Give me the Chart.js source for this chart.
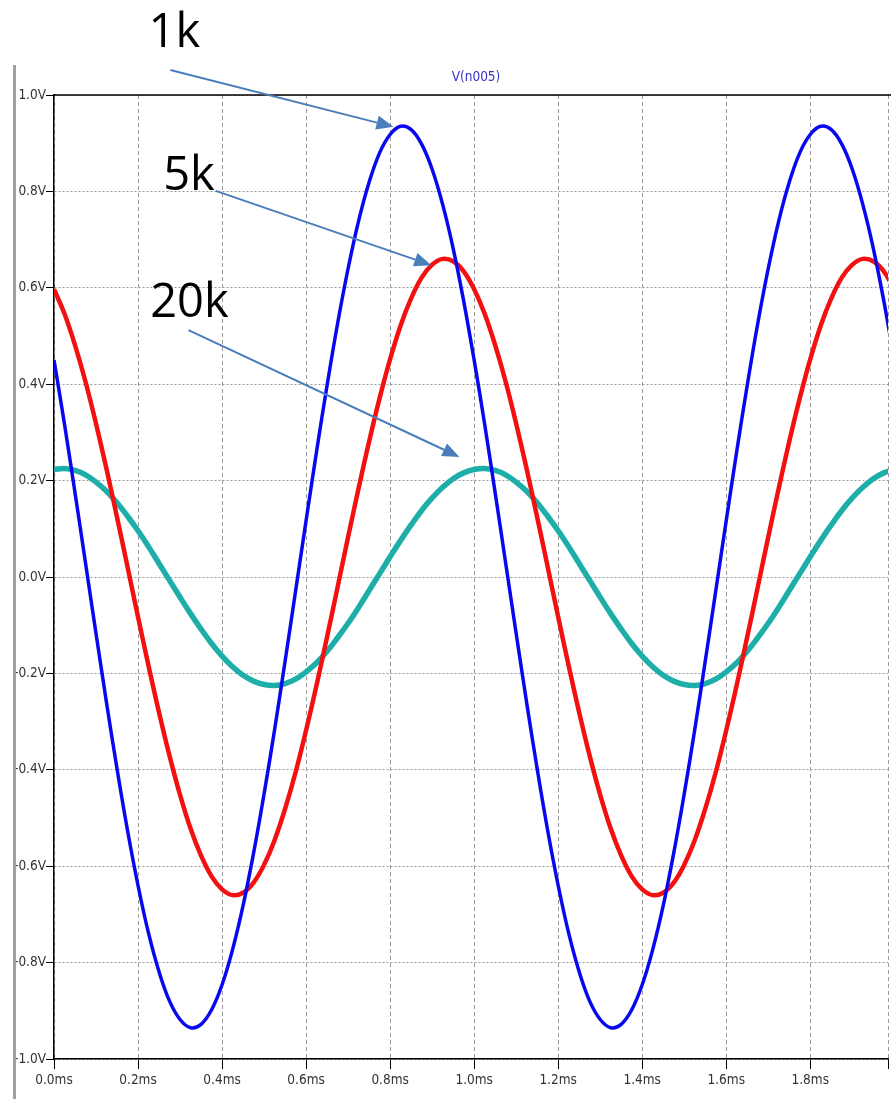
<!DOCTYPE html>
<html>
<head>
<meta charset="utf-8">
<script src="https://cdn.jsdelivr.net/npm/chart.js@4/dist/chart.umd.min.js"></script>
<style>
  body { margin: 0; background: #fff; }
  canvas { display: block; }
</style>
</head>
<body>
<canvas id="wave" width="891" height="1099"></canvas>
<script>
// time axis (ms)
const times = [
    0, 0.025, 0.05, 0.075, 0.1, 0.125, 0.15, 0.175, 0.2, 0.225,
    0.25, 0.275, 0.3, 0.325, 0.35, 0.375, 0.4, 0.425, 0.45, 0.475,
    0.5, 0.525, 0.55, 0.575, 0.6, 0.625, 0.65, 0.675, 0.7, 0.725,
    0.75, 0.775, 0.8, 0.825, 0.85, 0.875, 0.9, 0.925, 0.95, 0.975,
    1.0, 1.025, 1.05, 1.075, 1.1, 1.125, 1.15, 1.175, 1.2, 1.225,
    1.25, 1.275, 1.3, 1.325, 1.35, 1.375, 1.4, 1.425, 1.45, 1.475,
    1.5, 1.525, 1.55, 1.575, 1.6, 1.625, 1.65, 1.675, 1.7, 1.725,
    1.75, 1.775, 1.8, 1.825, 1.85, 1.875, 1.9, 1.925, 1.95, 1.975, 2.0,
];

// V(n005) with 1k load
const v1k = [
    0.450, 0.317, 0.175, 0.029, -0.117, -0.261, -0.398, -0.526, -0.640, -0.739,
    -0.819, -0.880, -0.918, -0.935, -0.928, -0.898, -0.846, -0.773, -0.682, -0.573,
    -0.450, -0.317, -0.175, -0.029, 0.117, 0.261, 0.398, 0.526, 0.640, 0.739,
    0.819, 0.880, 0.918, 0.935, 0.928, 0.898, 0.846, 0.773, 0.682, 0.573,
    0.450, 0.317, 0.175, 0.029, -0.117, -0.261, -0.398, -0.526, -0.640, -0.739,
    -0.819, -0.880, -0.918, -0.935, -0.928, -0.898, -0.846, -0.773, -0.682, -0.573,
    -0.450, -0.317, -0.175, -0.029, 0.117, 0.261, 0.398, 0.526, 0.640, 0.739,
    0.819, 0.880, 0.918, 0.935, 0.928, 0.898, 0.846, 0.773, 0.682, 0.573, 0.450,
];

// 5k load
const v5k = [
    0.597, 0.546, 0.481, 0.405, 0.318, 0.224, 0.124, 0.021, -0.083, -0.184,
    -0.281, -0.371, -0.452, -0.522, -0.578, -0.621, -0.648, -0.660, -0.655, -0.634,
    -0.597, -0.546, -0.481, -0.405, -0.318, -0.224, -0.124, -0.021, 0.083, 0.184,
    0.281, 0.371, 0.452, 0.522, 0.578, 0.621, 0.648, 0.660, 0.655, 0.634,
    0.597, 0.546, 0.481, 0.405, 0.318, 0.224, 0.124, 0.021, -0.083, -0.184,
    -0.281, -0.371, -0.452, -0.522, -0.578, -0.621, -0.648, -0.660, -0.655, -0.634,
    -0.597, -0.546, -0.481, -0.405, -0.318, -0.224, -0.124, -0.021, 0.083, 0.184,
    0.281, 0.371, 0.452, 0.522, 0.578, 0.621, 0.648, 0.660, 0.655, 0.634, 0.597,
];

// 20k load
const v20k = [
    0.223, 0.225, 0.221, 0.212, 0.197, 0.178, 0.154, 0.126, 0.096, 0.063,
    0.028, -0.007, -0.042, -0.076, -0.108, -0.138, -0.164, -0.186, -0.204, -0.216,
    -0.223, -0.225, -0.221, -0.212, -0.197, -0.178, -0.154, -0.126, -0.096, -0.063,
    -0.028, 0.007, 0.042, 0.076, 0.108, 0.138, 0.164, 0.186, 0.204, 0.216,
    0.223, 0.225, 0.221, 0.212, 0.197, 0.178, 0.154, 0.126, 0.096, 0.063,
    0.028, -0.007, -0.042, -0.076, -0.108, -0.138, -0.164, -0.186, -0.204, -0.216,
    -0.223, -0.225, -0.221, -0.212, -0.197, -0.178, -0.154, -0.126, -0.096, -0.063,
    -0.028, 0.007, 0.042, 0.076, 0.108, 0.138, 0.164, 0.186, 0.204, 0.216, 0.223,
];

const plotTitle = 'V(n005)';

// callout labels, anchored in data units (ms, V)
const calloutText = ['1k', '5k', '20k'];
const calloutLabelAt = [[0.225, 1.100], [0.260, 0.803], [0.229, 0.539]];
const calloutFrom = [[0.277, 1.052], [0.385, 0.801], [0.320, 0.512]];
const calloutTo = [[0.808, 0.934], [0.898, 0.647], [0.965, 0.249]];

const toPoints = (vals) => vals.map((v, i) => ({ x: times[i], y: v }));

const tickFamily = '"DejaVu Sans Condensed", "Liberation Sans", Arial, sans-serif';

const decorations = {
    id: 'decorations',
    afterDraw(chart) {
        const { ctx, chartArea, scales } = chart;
        const xs = scales.x;
        const ys = scales.y;
        ctx.save();

        // window edge on the left
        ctx.strokeStyle = '#a0a0a0';
        ctx.lineWidth = 3;
        ctx.beginPath();
        ctx.moveTo(14.5, 65);
        ctx.lineTo(14.5, chart.height);
        ctx.stroke();

        // top frame line
        ctx.strokeStyle = '#000';
        ctx.lineWidth = 1.5;
        ctx.beginPath();
        ctx.moveTo(chartArea.left, chartArea.top);
        ctx.lineTo(chart.width, chartArea.top);
        ctx.stroke();

        // trace name
        ctx.fillStyle = '#3535c8';
        ctx.font = `13.5px ${tickFamily}`;
        ctx.textAlign = 'center';
        ctx.textBaseline = 'middle';
        ctx.fillText(plotTitle, (chartArea.left + chartArea.right) / 2 + 5, chartArea.top - 18);

        // callouts
        ctx.textAlign = 'left';
        ctx.textBaseline = 'alphabetic';
        ctx.font = '47px "Open Sans", sans-serif';
        calloutText.forEach((label, i) => {
            ctx.fillStyle = '#000';
            ctx.fillText(label, xs.getPixelForValue(calloutLabelAt[i][0]), ys.getPixelForValue(calloutLabelAt[i][1]));

            const x1 = xs.getPixelForValue(calloutFrom[i][0]);
            const y1 = ys.getPixelForValue(calloutFrom[i][1]);
            const x2 = xs.getPixelForValue(calloutTo[i][0]);
            const y2 = ys.getPixelForValue(calloutTo[i][1]);
            const ang = Math.atan2(y2 - y1, x2 - x1);
            const headLen = 17;
            const headW = 7;
            const bx = x2 - headLen * Math.cos(ang);
            const by = y2 - headLen * Math.sin(ang);

            ctx.strokeStyle = '#4a7ebb';
            ctx.fillStyle = '#4a7ebb';
            ctx.lineWidth = 2;
            ctx.beginPath();
            ctx.moveTo(x1, y1);
            ctx.lineTo(bx, by);
            ctx.stroke();

            ctx.beginPath();
            ctx.moveTo(x2, y2);
            ctx.lineTo(bx + headW * Math.sin(ang), by - headW * Math.cos(ang));
            ctx.lineTo(bx - headW * Math.sin(ang), by + headW * Math.cos(ang));
            ctx.closePath();
            ctx.fill();
        });
        ctx.restore();
    },
};

const tickFont = { family: tickFamily, size: 13.5 };

new Chart(document.getElementById('wave').getContext('2d'), {
    type: 'line',
    data: {
        datasets: [
            {
                label: '1k',
                data: toPoints(v1k),
                borderColor: '#0808f0',
                borderWidth: 3.5,
                pointRadius: 0,
                tension: 0.4,
            },
            {
                label: '5k',
                data: toPoints(v5k),
                borderColor: '#f21010',
                borderWidth: 4.5,
                pointRadius: 0,
                tension: 0.4,
            },
            {
                label: '20k',
                data: toPoints(v20k),
                borderColor: '#1eaeaa',
                borderWidth: 5.5,
                pointRadius: 0,
                tension: 0.4,
            },
        ],
    },
    options: {
        responsive: false,
        animation: false,
        events: [],
        layout: { padding: { top: 95, left: 0, right: 0, bottom: 0 } },
        plugins: {
            legend: { display: false },
            tooltip: { enabled: false },
        },
        scales: {
            x: {
                type: 'linear',
                min: 0,
                max: 1.985,
                afterFit: (scale) => { scale.height = 40; },
                ticks: {
                    stepSize: 0.2,
                    color: '#333',
                    font: tickFont,
                    padding: 3,
                    maxRotation: 0,
                    autoSkip: false,
                    callback: (v) => (v > 1.95 ? '' : `${v.toFixed(1)}ms`),
                },
                grid: {
                    color: '#9a9a9a',
                    lineWidth: 1,
                    tickLength: 10,
                    tickColor: '#000',
                    tickBorderDash: [],
                },
                border: { display: true, color: '#000', width: 1.5, dash: [4, 3] },
            },
            y: {
                min: -1,
                max: 1,
                afterFit: (scale) => { scale.width = 54; },
                ticks: {
                    stepSize: 0.2,
                    color: '#333',
                    font: tickFont,
                    padding: 0,
                    callback: (v) => `${Math.abs(v) < 1e-9 ? '0.0' : v.toFixed(1)}V`,
                },
                grid: {
                    color: '#9a9a9a',
                    lineWidth: 1,
                    tickLength: 8,
                    tickColor: '#000',
                    tickBorderDash: [],
                },
                border: { display: true, color: '#000', width: 1.5, dash: [2, 2] },
            },
        },
    },
    plugins: [decorations],
});
</script>
</body>
</html>
